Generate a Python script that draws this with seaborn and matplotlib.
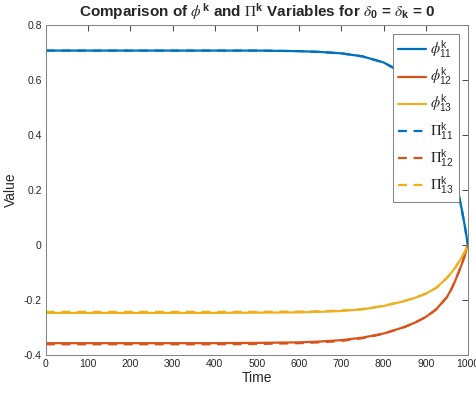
import matplotlib
matplotlib.use("Agg")
import matplotlib.pyplot as plt
import seaborn as sns
import pandas as pd
import numpy as np
from matplotlib.ticker import FormatStrFormatter

# ---- data ----
time = [0, 100, 200, 300, 400, 500, 600, 650, 700, 750, 800, 850, 875, 900, 925, 950, 960, 970, 985, 993, 1000]
phi11 = [0.707, 0.707, 0.707, 0.707, 0.707, 0.707, 0.705, 0.702, 0.697, 0.686, 0.664, 0.622, 0.585, 0.535, 0.462, 0.357, 0.303, 0.243, 0.133, 0.066, 0.0]
phi12 = [-0.357, -0.357, -0.357, -0.357, -0.357, -0.356, -0.354, -0.351, -0.346, -0.337, -0.322, -0.298, -0.282, -0.262, -0.234, -0.190, -0.163, -0.130, -0.072, -0.036, 0.0]
phi13 = [-0.247, -0.247, -0.247, -0.247, -0.247, -0.246, -0.245, -0.243, -0.240, -0.234, -0.222, -0.204, -0.192, -0.177, -0.156, -0.120, -0.102, -0.082, -0.046, -0.024, 0.0]
pi11 = [0.707, 0.707, 0.707, 0.707, 0.707, 0.707, 0.705, 0.702, 0.697, 0.686, 0.664, 0.622, 0.585, 0.535, 0.462, 0.357, 0.303, 0.243, 0.133, 0.066, 0.0]
pi12 = [-0.361, -0.361, -0.361, -0.361, -0.361, -0.360, -0.357, -0.354, -0.349, -0.339, -0.323, -0.298, -0.282, -0.262, -0.234, -0.190, -0.163, -0.130, -0.072, -0.036, 0.0]
pi13 = [-0.243, -0.243, -0.243, -0.243, -0.243, -0.243, -0.242, -0.241, -0.238, -0.233, -0.221, -0.203, -0.192, -0.177, -0.156, -0.120, -0.102, -0.082, -0.046, -0.024, 0.0]

labels = [r"$\phi^{\mathsf{k}}_{\mathsf{11}}$", r"$\phi^{\mathsf{k}}_{\mathsf{12}}$", r"$\phi^{\mathsf{k}}_{\mathsf{13}}$",
          r"$\Pi^{\mathsf{k}}_{\mathsf{11}}$", r"$\Pi^{\mathsf{k}}_{\mathsf{12}}$", r"$\Pi^{\mathsf{k}}_{\mathsf{13}}$"]
series = [phi11, phi12, phi13, pi11, pi12, pi13]
colors = ["#0072BD", "#D95319", "#EDB120", "#0072BD", "#D95319", "#EDB120"]
styles = ["-", "-", "-", "--", "--", "--"]

rows = []
for lab, vals in zip(labels, series):
    for t, v in zip(time, vals):
        rows.append({"Time": t, "Value": v, "Series": lab})
df = pd.DataFrame(rows)

sns.set_style("white")
plt.rcParams["font.family"] = ["Liberation Sans", "DejaVu Sans"]
plt.rcParams["mathtext.fontset"] = "custom"
plt.rcParams["mathtext.rm"] = "STIXGeneral"
plt.rcParams["mathtext.it"] = "STIXGeneral:italic"
plt.rcParams["mathtext.bf"] = "Liberation Sans:bold"
plt.rcParams["mathtext.sf"] = "Liberation Sans"
plt.rcParams["axes.unicode_minus"] = False

fig = plt.figure(figsize=(4.76, 3.94), dpi=100)
ax = fig.add_axes([0.0966, 0.099, 0.8864, 0.8375])

for lab, c, ls in zip(labels, colors, styles):
    sub = df[df["Series"] == lab]
    sns.lineplot(data=sub, x="Time", y="Value", ax=ax, color=c,
                 linewidth=1.6, label=lab)
for line, ls in zip(ax.get_lines(), styles):
    if ls == "--":
        line.set_dashes([4, 3])

ax.set_xlim(0, 1000)
ax.set_ylim(-0.4, 0.8)
ax.set_xticks(np.arange(0, 1001, 100))
ax.set_yticks(np.arange(-0.4, 0.81, 0.2))
ax.yaxis.set_major_formatter(FormatStrFormatter("%g"))
ax.xaxis.set_major_formatter(FormatStrFormatter("%g"))
ax.tick_params(direction="in", length=4, width=0.6, top=True, right=True,
               labelsize=7.5, colors="#262626", pad=3)
for s in ax.spines.values():
    s.set_color("#808080")
    s.set_linewidth(0.7)

ax.set_xlabel("Time", fontsize=10, color="#262626", labelpad=1)
ax.set_ylabel("Value", fontsize=10, color="#262626", labelpad=4)
ax.set_title(r"Comparison of $\phi^{\mathbf{k}}$ and $\Pi^{\mathbf{k}}$ Variables for $\delta_{\mathbf{0}}$ = $\delta_{\mathbf{k}}$ = 0",
             fontsize=11, fontweight="bold", pad=6)

leg = ax.legend(loc="upper right", fontsize=10.5, handlelength=1.9, handletextpad=0.3,
                labelspacing=0.35, borderpad=0.35, fancybox=False, framealpha=1,
                edgecolor="#808080", borderaxespad=0.6)
leg.get_frame().set_linewidth(0.7)

fig.savefig("out.png", dpi=100)
